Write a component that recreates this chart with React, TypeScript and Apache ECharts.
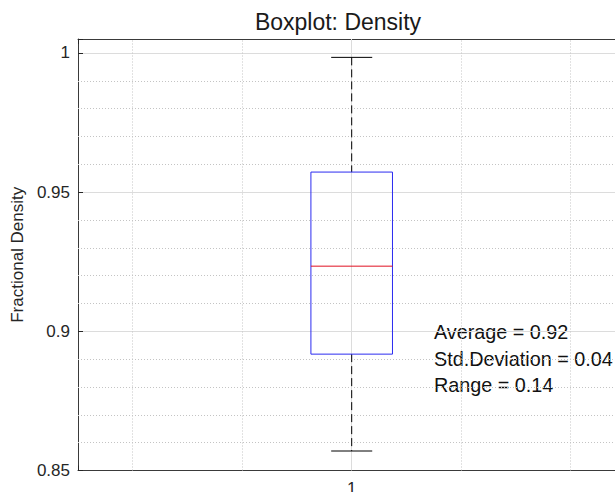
import React, { useEffect, useRef } from 'react';
import * as echarts from 'echarts';

// ---- data ----
const categories = ['1'];
const positions = [1];
const lowerWhisker = [0.857];
const lowerQuartile = [0.8918];
const medians = [0.9234];
const upperQuartile = [0.9572];
const upperWhisker = [0.9984];

const statNames = ['Average', 'Std.Deviation', 'Range'];
const statValues = ['0.92', '0.04', '0.14'];

const yMajorTicks = [0.85, 0.9, 0.95, 1];
const yMinorTicks = [0.86, 0.87, 0.88, 0.89, 0.91, 0.92, 0.93, 0.94, 0.96, 0.97, 0.98, 0.99];
const xMinorTicks = [0.6, 0.8, 1.2, 1.4];

const FONT = '"Liberation Sans", Arial, Helvetica, sans-serif';
const BOX_WIDTH = 0.149;
const CAP_WIDTH = 0.075;

function isIn(list: number[], v: number) {
  return list.findIndex((t) => Math.abs(t - v) < 1e-9);
}

export default function App() {
  const ref = useRef<HTMLDivElement>(null);
  useEffect(() => {
    if (!ref.current) return;
    const chart = echarts.init(ref.current, undefined, { renderer: 'svg' });
    const boxData = positions.map((p, i) => [
      p,
      lowerWhisker[i],
      lowerQuartile[i],
      medians[i],
      upperQuartile[i],
      upperWhisker[i],
    ]);

    const renderItem = (params: any, api: any) => {
      const x = api.value(0);
      const lo = api.value(1);
      const b1 = api.value(2);
      const md = api.value(3);
      const b3 = api.value(4);
      const hi = api.value(5);
      const halfBox = api.size([BOX_WIDTH, 0])[0] / 2;
      const halfCap = api.size([CAP_WIDTH, 0])[0] / 2;
      const pLo = api.coord([x, lo]);
      const pB1 = api.coord([x, b1]);
      const pMd = api.coord([x, md]);
      const pB3 = api.coord([x, b3]);
      const pHi = api.coord([x, hi]);
      const cx = pLo[0];
      const dash = { stroke: '#000', lineWidth: 1, lineDash: [8, 4] };
      const solid = { stroke: '#000', lineWidth: 1 };
      return {
        type: 'group',
        children: [
          { type: 'line', shape: { x1: cx, y1: pHi[1], x2: cx, y2: pB3[1] }, style: dash },
          { type: 'line', shape: { x1: cx, y1: pB1[1], x2: cx, y2: pLo[1] }, style: dash },
          { type: 'line', shape: { x1: cx - halfCap, y1: pHi[1], x2: cx + halfCap, y2: pHi[1] }, style: solid },
          { type: 'line', shape: { x1: cx - halfCap, y1: pLo[1], x2: cx + halfCap, y2: pLo[1] }, style: solid },
          {
            type: 'rect',
            shape: { x: cx - halfBox, y: pB3[1], width: halfBox * 2, height: pB1[1] - pB3[1] },
            style: { fill: 'none', stroke: '#2b2bf0', lineWidth: 1 },
          },
          { type: 'line', shape: { x1: cx - halfBox, y1: pMd[1], x2: cx + halfBox, y2: pMd[1] }, style: { stroke: '#e01020', lineWidth: 1 } },
        ],
      };
    };

    const xLabelFormatter = (v: number) => {
      const i = isIn(positions, v);
      return i >= 0 ? categories[i] : '';
    };

    const baseX = {
      type: 'value',
      min: 0.5,
      max: 1.5,
      interval: 0.5,
      axisLine: { show: true, onZero: false, lineStyle: { color: '#3a3a3a', width: 1 } },
      axisTick: { show: true, inside: true, length: 5, lineStyle: { color: '#262626' } },
      splitLine: { show: false },
    };

    chart.setOption({
      animation: false,
      backgroundColor: '#ffffff',
      title: {
        text: 'Boxplot: Density',
        left: 333,
        top: 5,
        textAlign: 'center',
        textStyle: { fontFamily: FONT, fontSize: 23, fontWeight: 'normal', color: '#1a1a1a' },
      },
      grid: { left: 78, top: 39, width: 547.4, height: 431.5, outerBoundsMode: 'none', containLabel: false },
      xAxis: [
        {
          ...baseX,
          position: 'bottom',
          axisLabel: { formatter: xLabelFormatter, fontFamily: FONT, fontSize: 17, color: '#262626', margin: 9 },
        },
        {
          ...baseX,
          position: 'top',
          axisLabel: { show: false },
        },
      ],
      yAxis: {
        type: 'value',
        min: 0.85,
        max: 1.005,
        interval: 0.05,
        name: 'Fractional Density',
        nameLocation: 'middle',
        nameGap: 43,
        nameTextStyle: { fontFamily: FONT, fontSize: 17, color: '#262626' },
        axisLine: { show: true, onZero: false, lineStyle: { color: '#3a3a3a', width: 1 } },
        axisTick: { show: true, inside: true, length: 5, lineStyle: { color: '#262626' } },
        axisLabel: {
          formatter: (v: number) => (isIn(yMajorTicks, v) >= 0 ? String(v) : ''),
          fontFamily: FONT,
          fontSize: 17,
          color: '#262626',
          margin: 8,
        },
        splitLine: { show: true, lineStyle: { color: '#dcdcdc', width: 1 } },
      },
      series: [
        {
          type: 'line',
          data: [],
          z: 1,
          silent: true,
          markLine: {
            silent: true,
            symbol: ['none', 'none'],
            label: { show: false },
            emphasis: { disabled: true },
            lineStyle: { type: [1, 2], color: '#c4c4c4', width: 1 },
            data: [
              ...yMinorTicks.map((v) => ({ yAxis: v })),
              ...xMinorTicks.map((v) => ({ xAxis: v })),
              ...positions.map((v) => ({ xAxis: v, lineStyle: { type: 'solid', color: '#dcdcdc', width: 1 } })),
            ],
          },
        },
        {
          type: 'custom',
          z: 5,
          data: boxData,
          encode: { x: 0, y: [1, 2, 3, 4, 5] },
          renderItem,
        },
      ],
      graphic: statNames.map((n, i) => ({
        type: 'text',
        left: 434,
        top: 333 + i * 26.7 - 11,
        silent: true,
        style: {
          text: `${n} = ${statValues[i]}`,
          fontFamily: FONT,
          fontSize: 19.8,
          fill: '#111111',
        },
      })),
    });
    return () => chart.dispose();
  }, []);
  return (
    <div
      ref={ref}
      style={{ position: 'absolute', left: 0, top: 0, width: 615, height: 492, overflow: 'hidden' }}
    />
  );
}
